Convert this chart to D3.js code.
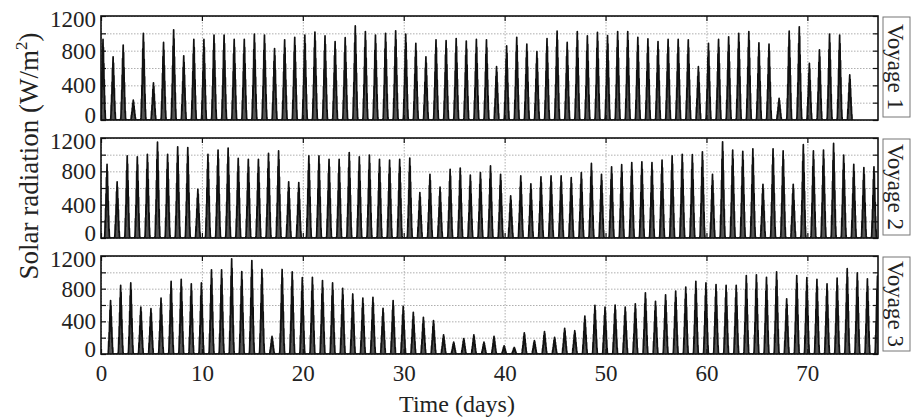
<!DOCTYPE html>
<html>
<head>
<meta charset="utf-8">
<script src="https://cdn.jsdelivr.net/npm/d3@7"></script>
<style>
  body { margin: 0; background: #fff; }
  svg { display: block; font-family: "Liberation Serif", "Times New Roman", serif; }
  .grid line { stroke: #9a9a9a; stroke-dasharray: 1.5,1.5; stroke-width: 0.8; }
  .grid path { display: none; }
  .ticks path { display: none; }
  .ticks line { stroke: #111; stroke-width: 1.2; }
  .labels path, .labels line { display: none; }
  .labels text { font-size: 23px; fill: #222; font-family: "Liberation Serif", serif; }
</style>
</head>
<body>
<div id="drawing_region"></div>
<script>
// daily peak solar radiation (W/m2), one value per day
var voyage1 = [930, 730, 865, 230, 1000, 430, 895, 1040, 740, 930,
               930, 980, 980, 930, 930, 990, 980, 825, 925, 955,
               980, 1015, 970, 905, 950, 1085, 1020, 980, 1000, 1030,
               990, 885, 730, 925, 915, 940, 910, 930, 925, 615,
               855, 955, 875, 790, 940, 1025, 895, 1020, 970, 1010,
               975, 1020, 1020, 955, 935, 905, 930, 930, 925, 615,
               885, 930, 960, 1000, 1020, 890, 875, 250, 1025, 1075,
               655, 810, 990, 980, 520];
var voyage2 = [885, 675, 985, 975, 1005, 1150, 1005, 1095, 1085, 585,
               1005, 1055, 1080, 955, 945, 945, 1015, 1045, 675, 665,
               985, 985, 945, 945, 1025, 975, 995, 945, 935, 945,
               960, 545, 765, 610, 825, 840, 755, 785, 865, 765,
               505, 745, 650, 735, 745, 745, 725, 785, 895, 765,
               855, 880, 905, 915, 905, 935, 985, 1005, 1000, 1035,
               765, 1155, 1055, 1040, 1070, 645, 1070, 1045, 645, 1120,
               1045, 1055, 1135, 995, 885, 845, 855];
var voyage3 = [655, 840, 870, 575, 555, 685, 890, 915, 860, 870,
               1030, 1030, 1165, 1010, 1145, 1035, 215, 1035, 1005, 935,
               940, 900, 870, 805, 735, 685, 695, 560, 655, 585,
               510, 450, 410, 235, 145, 190, 235, 145, 215, 100,
               80, 260, 165, 275, 205, 315, 285, 465, 595, 575,
               600, 575, 615, 750, 645, 725, 770, 820, 890, 870,
               850, 840, 840, 960, 970, 940, 1005, 675, 960, 935,
               915, 860, 930, 1045, 995, 920, 955];

// time of the daily peak within each day (fraction of a day), per voyage
var voyagePhase = [0.2, 0.6, 0.95];
var voyageNames = ["Voyage 1", "Voyage 2", "Voyage 3"];

// shape of one day around the peak: hours from the peak and share of the peak value
var profileHours = [-6.5, -5.5, -5, -4.5, -4, -3.5, -3, -2.5, -2, -1.5, -1, -0.5, 0,
                    0.5, 1, 1.5, 2, 2.5, 3, 3.5, 4, 4.5, 5, 5.5, 6.5];
var profileLevel = [0, 0.03, 0.1, 0.24, 0.14, 0.4, 0.28, 0.6, 0.42, 0.82, 0.66, 0.9, 1,
                    0.76, 0.9, 0.52, 0.7, 0.38, 0.5, 0.22, 0.3, 0.1, 0.12, 0.03, 0];

var xTicks = [0, 10, 20, 30, 40, 50, 60, 70];
var yLabelTicks = [0, 400, 800, 1200];
var yMinorTicks = [0, 200, 400, 600, 800, 1000, 1200];

var width = 912, height = 418;
var left = 101, right = 878;
var panels = [
    { top: 16, bottom: 120, peaks: voyage1 },
    { top: 138, bottom: 238, peaks: voyage2 },
    { top: 256, bottom: 354, peaks: voyage3 }
];

var svg = d3.select("#drawing_region")
    .append("svg")
    .attr("width", width)
    .attr("height", height);

var xScale = d3.scaleLinear().domain([0, 77]).range([left, right]);

panels.forEach(function (p, i) {
    var yScale = d3.scaleLinear().domain([0, 1200]).range([p.bottom, p.top]);
    var g = svg.append("g");

    // grid
    g.append("g").attr("class", "grid")
        .attr("transform", "translate(" + left + ",0)")
        .call(d3.axisRight(yScale).tickValues(yMinorTicks).tickSize(right - left).tickFormat(""));
    g.append("g").attr("class", "grid")
        .attr("transform", "translate(0," + p.top + ")")
        .call(d3.axisBottom(xScale).tickValues(xTicks).tickSize(p.bottom - p.top).tickFormat(""));

    // series
    var pts = [];
    p.peaks.forEach(function (v, d) {
        profileHours.forEach(function (h, k) {
            pts.push([d + voyagePhase[i] + h / 24, v * profileLevel[k]]);
        });
    });

    svg.append("clipPath").attr("id", "clip" + i)
        .append("rect")
        .attr("x", left).attr("y", p.top - 2)
        .attr("width", right - left).attr("height", p.bottom - p.top + 2);

    g.append("path")
        .datum(pts)
        .attr("clip-path", "url(#clip" + i + ")")
        .attr("fill", "#151515")
        .attr("fill-opacity", 0.72)
        .attr("d", d3.area().x(function (d) { return xScale(d[0]); })
            .y0(yScale(0)).y1(function (d) { return yScale(d[1]); }));

    g.append("path")
        .datum(pts)
        .attr("clip-path", "url(#clip" + i + ")")
        .attr("fill", "none")
        .attr("stroke", "#111")
        .attr("stroke-width", 1.7)
        .attr("stroke-linejoin", "round")
        .attr("d", d3.line().x(function (d) { return xScale(d[0]); }).y(function (d) { return yScale(d[1]); }));

    // inward ticks on all four sides
    g.append("g").attr("class", "ticks")
        .attr("transform", "translate(" + left + ",0)")
        .call(d3.axisRight(yScale).tickValues(yMinorTicks).tickSize(5).tickFormat(""));
    g.append("g").attr("class", "ticks")
        .attr("transform", "translate(" + right + ",0)")
        .call(d3.axisLeft(yScale).tickValues(yMinorTicks).tickSize(5).tickFormat(""));
    g.append("g").attr("class", "ticks")
        .attr("transform", "translate(0," + p.top + ")")
        .call(d3.axisBottom(xScale).tickValues(xTicks).tickSize(5).tickFormat(""));
    g.append("g").attr("class", "ticks")
        .attr("transform", "translate(0," + p.bottom + ")")
        .call(d3.axisTop(xScale).tickValues(xTicks).tickSize(5).tickFormat(""));

    // y labels, end labels nudged inwards like the reference
    var yl = g.append("g").attr("class", "labels")
        .attr("transform", "translate(" + left + ",0)")
        .call(d3.axisLeft(yScale).tickValues(yLabelTicks).tickSize(0).tickPadding(5).tickFormat(d3.format("d")));
    yl.selectAll(".tick text")
        .attr("dy", function (d) { return d === 0 ? "0.12em" : (d === 1200 ? "0.45em" : "0.32em"); });

    // frame
    g.append("rect")
        .attr("x", left).attr("y", p.top)
        .attr("width", right - left).attr("height", p.bottom - p.top)
        .attr("fill", "none").attr("stroke", "#111").attr("stroke-width", 1.6);

    // voyage tag
    g.append("rect")
        .attr("x", 883).attr("y", p.top + 1)
        .attr("width", 27).attr("height", p.bottom - p.top - 4)
        .attr("fill", "#fff").attr("stroke", "#777").attr("stroke-width", 1);
    g.append("text")
        .attr("transform", "translate(" + 888 + "," + ((p.top + p.bottom) / 2 - 1) + ") rotate(90)")
        .attr("text-anchor", "middle")
        .attr("font-size", 23)
        .attr("fill", "#222")
        .text(voyageNames[i]);
});

// x labels under the last panel
svg.append("g").attr("class", "labels")
    .attr("transform", "translate(0," + panels[2].bottom + ")")
    .call(d3.axisBottom(xScale).tickValues(xTicks).tickSize(0).tickPadding(11));

svg.append("text")
    .attr("x", 457).attr("y", 412)
    .attr("text-anchor", "middle")
    .attr("font-size", 24)
    .attr("fill", "#222")
    .text("Time (days)");

var ylab = svg.append("text")
    .attr("transform", "translate(38,156) rotate(-90)")
    .attr("text-anchor", "middle")
    .attr("font-size", 27)
    .attr("fill", "#222");
ylab.append("tspan").text("Solar radiation (W/m");
ylab.append("tspan").attr("dy", -11).attr("font-size", 17).text("2");
ylab.append("tspan").attr("dy", 11).text(")");
</script>
</body>
</html>
